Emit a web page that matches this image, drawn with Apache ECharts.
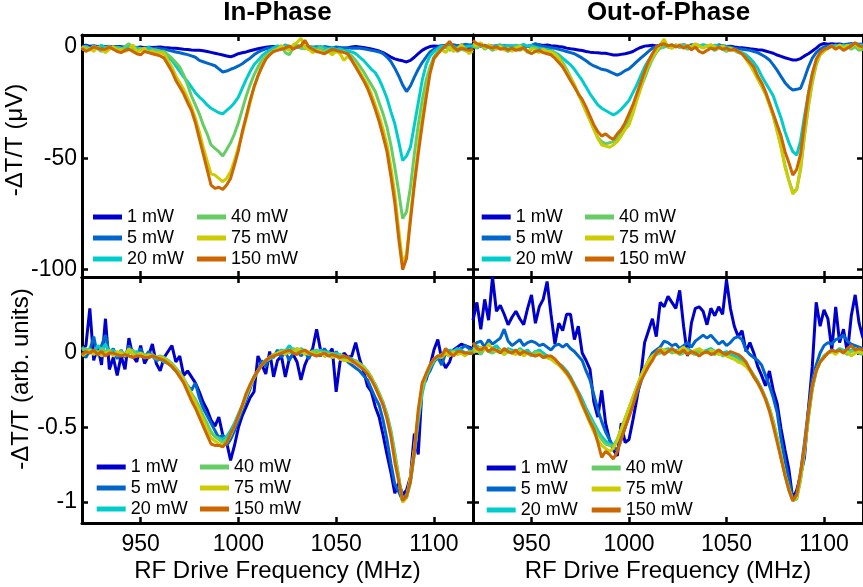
<!DOCTYPE html>
<html><head><meta charset="utf-8">
<script src="https://cdn.jsdelivr.net/npm/echarts@6/dist/echarts.min.js"></script>
<style>html,body{margin:0;padding:0;background:#fff}#c{width:863px;height:587px}</style>
</head><body><div id="c"></div><script>
const freq = [920,922,924,926,928,930,932,934,936,938,940,942,944,946,948,950,952,954,956,958,960,962,964,966,968,970,972,974,976,978,980,982,984,986,988,990,992,994,996,998,1000,1002,1004,1006,1008,1010,1012,1014,1016,1018,1020,1022,1024,1026,1028,1030,1032,1034,1036,1038,1040,1042,1044,1046,1048,1050,1052,1054,1056,1058,1060,1062,1064,1066,1068,1070,1072,1074,1076,1078,1080,1082,1084,1086,1088,1090,1092,1094,1096,1098,1100,1102,1104,1106,1108,1110,1112,1114,1116,1118,1120];
const powers = ['1 mW','5 mW','20 mW','40 mW','75 mW','150 mW'];
const colors = ['#0000CC','#0066CC','#00CCCC','#66CC66','#CCCC00','#CC6600'];
const xTicks = [950,1000,1050,1100];
const yTicksTop = [-100,-50,0];
const yTicksBottom = [-1,-0.5,0];

// In-Phase (uV)
const IP_1 = [0.5,0.8,0.3,0.5,0.2,0.4,0.1,0.3,0.0,0.2, 0.1,-0.1,0.2,0.0,-0.2,0.0,-0.3,-0.1,-0.2,-0.1, 0.0,-0.2,-0.3,-0.5,-0.6,-0.8,-1.0,-1.1,-1.3,-1.4, -1.5,-1.7,-2.0,-2.4,-2.8,-3.2,-3.6,-4.0,-4.4,-3.8, -3.0,-2.6,-2.2,-1.7,-1.2,-0.8,-0.4,-0.1,0.1,0.2, 0.1,0.3,0.0,0.2,-0.1,0.1,-0.2,0.0,-0.3,-0.1, -0.2,0.0,-0.4,-0.2,-0.5,-0.3,-0.6,-0.4,-0.3,0.0, 0.2,0.0,-0.2,-0.5,-0.9,-1.3,-1.8,-2.5,-3.5,-4.5, -5.3,-5.8,-6.2,-6.7,-6.0,-4.6,-3.0,-1.5,-0.5,0.2, 0.5,0.3,0.6,0.4,0.7,0.5,0.6,0.8,0.6,0.7, 0.8];
const IP_5 = [-0.5,0.3,-0.2,0.5,0.0,-0.3,0.2,-0.4,0.0,-0.2, -0.5,0.0,-0.3,-0.6,-0.2,-0.5,-0.8,-0.4,-0.7,-0.6, -0.8,-1.0,-1.4,-1.8,-2.2,-2.6,-3.0,-3.4,-4.0,-4.6, -6.0,-6.6,-7.2,-7.8,-8.4,-9.8,-11.2,-10.8,-10.0,-9.4, -8.5,-7.5,-6.2,-5.0,-3.5,-2.3,-1.5,-0.8,-0.4,0.0, 0.3,-0.2,0.4,0.1,-0.3,0.2,0.5,0.0,0.3,-0.2, 0.1,-0.3,0.2,-0.1,-0.4,0.0,-0.2,-0.5,-0.3,-0.6, -0.4,-0.6,-0.8,-1.1,-1.5,-1.8,-2.2,-3.0,-4.5,-6.5, -9.5,-13.0,-17.0,-20.0,-17.5,-13.5,-10.0,-7.0,-4.5,-2.2, -1.0,-0.2,0.5,0.8,0.5,1.0,0.6,0.8,1.2,0.9, 1.0];
const IP_20 = [-0.8,0.5,-1.0,0.3,-0.5,0.8,-0.3,0.2,-0.6,0.0, -0.4,-1.0,0.2,-0.8,-0.3,-1.2,-0.6,-0.2,-1.0,-1.3, -2.0,-3.0,-4.5,-6.0,-8.5,-11.0,-13.5,-15.5,-18.0,-20.5, -22.5,-24.0,-26.0,-27.5,-28.5,-29.5,-30.0,-28.5,-27.0,-25.0, -22.5,-18.5,-14.5,-11.0,-8.0,-6.0,-4.0,-2.5,-1.5,-0.5, 0.5,-0.3,1.0,0.2,-0.5,0.8,0.0,-0.8,0.3,-0.2, -0.6,0.2,-0.4,-1.0,-0.3,-1.2,-0.8,-1.5,-1.8,-2.2, -3.0,-4.5,-6.0,-8.0,-10.0,-11.5,-14.5,-18.5,-23.0,-29.0, -34.5,-42.5,-51.0,-49.0,-45.0,-35.0,-25.0,-15.0,-8.0,-4.0, -2.0,-0.8,0.5,-0.3,0.8,0.2,-0.5,0.6,0.0,0.4, 0.2];
const IP_40 = [-1.2,0.0,-1.5,0.5,-0.8,-2.0,-0.5,0.3,-1.0,-0.4, -1.5,0.2,1.5,-0.8,-1.8,-0.6,-1.0,-2.0,-1.2,-1.5, -1.8,-2.0,-3.5,-5.0,-7.0,-9.0,-12.5,-17.0,-22.0,-26.0, -30.0,-35.0,-39.0,-44.0,-45.5,-47.0,-49.0,-46.0,-43.0,-39.0, -34.0,-28.0,-22.0,-17.0,-12.5,-9.0,-6.0,-4.0,-3.0,-2.0, -1.0,0.5,-2.5,-3.5,-0.5,1.0,-0.8,0.3,-1.2,-0.5, -1.5,-0.3,-2.0,-1.0,-2.5,-1.5,-1.8,-2.0,-3.0,-4.0, -6.0,-8.5,-11.0,-14.0,-17.0,-20.0,-25.0,-30.0,-36.0,-44.0, -54.0,-65.0,-77.0,-74.0,-63.0,-48.0,-35.0,-24.0,-15.0,-9.0, -4.5,-2.0,-1.0,0.5,-1.5,-0.5,-2.0,-1.0,-1.5,-2.5, -2.0];
const IP_75 = [0.5,-1.5,-0.5,-2.0,0.0,-1.0,-2.5,-1.0,0.2,-1.5, -1.0,-2.0,-1.2,1.0,-2.0,-1.5,-0.5,-2.5,-2.0,-2.8, -2.5,-3.0,-6.0,-9.0,-13.0,-16.0,-19.0,-23.0,-27.0,-32.0, -38.0,-45.0,-51.0,-57.0,-57.5,-59.0,-60.5,-59.0,-56.0,-51.0, -45.0,-39.0,-32.0,-25.0,-18.0,-13.0,-8.0,-5.0,-3.0,-1.5, -1.0,0.5,-0.5,-1.5,1.0,2.0,4.0,-0.5,-1.0,-2.5, -1.5,-2.0,-3.0,-2.0,-3.5,-2.0,-3.0,-6.0,-4.0,-6.0, -8.0,-11.0,-14.0,-17.0,-21.0,-26.0,-31.0,-37.0,-44.0,-54.0, -66.0,-82.0,-97.0,-93.0,-76.0,-60.0,-45.0,-32.0,-21.0,-11.0, -5.5,-3.0,-1.0,-2.5,0.0,-2.0,-1.0,1.0,-1.0,-3.0, -1.0];
const IP_150 = [-0.5,-2.0,-1.0,0.0,-0.5,-1.0,-1.0,0.0,-1.0,-2.0, -2.5,-1.5,-1.0,-2.0,-3.0,-3.5,-2.0,-2.5,-3.0,-3.5, -4.0,-5.0,-8.0,-11.0,-15.0,-18.0,-21.0,-25.0,-28.5,-34.0, -41.0,-48.0,-55.0,-62.0,-63.5,-63.0,-64.0,-62.0,-59.0,-53.0, -46.5,-38.0,-31.0,-24.0,-18.0,-13.0,-9.0,-5.5,-3.5,-2.0, -1.5,-1.0,-0.5,0.5,-1.0,0.0,0.5,3.0,0.0,-1.0, -2.0,-2.5,-3.0,-2.0,-1.0,-1.5,-2.0,-2.5,-3.0,-6.0, -9.0,-12.0,-15.0,-18.5,-23.0,-28.0,-33.5,-40.0,-47.0,-58.0, -70.0,-86.0,-100.0,-95.0,-78.0,-62.0,-48.0,-35.0,-23.0,-12.0, -5.0,-3.0,-1.0,0.5,2.5,0.0,-1.5,-0.5,-1.0,-1.5, -1.0];

// Out-of-Phase (uV)
const OP_1 = [0.8,1.0,0.6,0.5,0.7,0.4,0.5,0.3,0.6,0.2, 0.4,0.1,0.3,0.0,0.2,0.5,0.8,1.0,0.7,0.9, 0.6,0.5,0.2,0.0,-0.5,-0.8,-1.0,-1.3,-1.6,-2.0, -2.3,-2.5,-2.6,-2.8,-2.8,-3.2,-3.6,-3.6,-3.3,-3.0, -2.6,-2.0,-1.0,-0.2,0.4,0.6,0.8,0.5,0.7,0.9, 0.6,0.8,0.5,0.7,0.9,0.6,0.8,1.0,0.7,0.5, 0.6,0.4,0.7,0.3,0.5,0.2,0.4,0.0,-0.2,-0.3, -0.5,-0.8,-1.0,-1.2,-1.3,-1.8,-2.3,-2.8,-3.6,-4.2, -4.8,-5.3,-5.8,-5.8,-5.2,-4.0,-3.0,-1.8,-0.5,1.0, 1.6,1.3,1.5,1.2,1.4,1.0,1.3,1.5,1.1,1.3, 1.2];
const OP_5 = [0.0,0.5,0.2,0.8,0.3,0.0,0.5,0.2,-0.3,0.3, 0.5,0.0,0.3,-0.2,0.4,0.7,1.5,0.8,0.2,0.0, -0.3,-0.6,-1.0,-1.5,-2.0,-2.5,-3.0,-4.0,-5.0,-6.2, -7.5,-8.5,-9.2,-10.0,-10.3,-11.0,-11.8,-12.6,-11.8,-10.6, -9.8,-8.2,-6.6,-5.0,-3.5,-2.0,-0.5,0.3,0.5,0.3, 0.6,0.2,0.8,0.4,0.0,0.5,0.9,0.3,0.6,0.2, 0.5,0.8,0.3,1.0,0.5,0.2,0.0,-0.5,-0.8,-1.0, -1.2,-1.5,-2.0,-2.5,-3.5,-4.5,-5.8,-8.0,-10.5,-13.3, -16.0,-18.0,-19.3,-19.0,-18.5,-14.0,-9.0,-5.0,-2.5,-1.0, 0.0,0.5,0.8,0.3,1.0,0.6,1.2,0.8,1.5,1.0, 1.2];
const OP_20 = [1.0,0.5,1.2,0.3,0.8,0.0,0.6,1.0,0.4,0.7, 0.2,0.8,0.5,1.2,0.3,0.6,0.0,-0.5,-0.8,-1.2, -1.5,-2.5,-3.5,-5.0,-6.5,-8.0,-10.0,-12.5,-15.0,-18.0, -21.0,-23.5,-26.0,-27.5,-28.5,-29.5,-30.5,-29.5,-28.0,-26.0, -24.0,-20.5,-17.0,-13.0,-9.0,-6.0,-3.5,-1.5,-0.5,0.0, 0.5,0.2,0.8,0.4,1.0,0.6,0.3,0.8,0.5,1.0, 0.7,0.3,0.8,0.5,0.2,0.0,-0.5,-1.0,-1.8,-2.5, -3.5,-5.0,-7.0,-9.5,-13.0,-16.0,-19.0,-22.0,-27.0,-32.0, -38.0,-43.0,-47.0,-48.5,-42.0,-31.0,-21.0,-12.0,-6.5,-3.0, -1.5,-0.5,0.3,0.8,0.2,1.0,0.5,1.2,0.6,0.9, 0.8];
const OP_40 = [0.3,-0.5,0.8,-1.0,0.0,-1.5,-0.5,0.5,-0.8,-2.0, -1.0,0.2,-1.5,-0.5,-2.5,-1.0,-0.3,-1.8,-1.0,-2.0, -2.5,-3.0,-4.5,-7.0,-10.0,-13.5,-17.0,-21.0,-25.0,-29.0, -33.0,-37.0,-40.5,-42.5,-43.5,-43.0,-42.5,-41.0,-38.5,-35.5, -32.0,-28.0,-23.5,-18.5,-14.0,-9.5,-5.5,-2.5,-0.5,0.5, 0.0,-0.5,1.0,-0.3,0.5,-1.0,0.2,-0.5,0.8,-0.2, 0.5,-0.5,-1.5,-0.5,-1.0,-2.0,-1.0,-1.5,-2.5,-3.0, -5.0,-7.5,-10.5,-14.0,-17.5,-21.0,-25.5,-31.0,-37.5,-45.0, -53.0,-60.0,-65.0,-64.0,-55.0,-40.0,-27.0,-16.0,-8.0,-3.5, -1.5,-0.5,0.5,-0.5,0.8,-0.3,0.5,-1.0,0.2,-1.5, -1.0];
const OP_75 = [1.5,0.5,2.0,-0.5,1.0,0.0,-1.0,0.5,-1.5,-0.5, -2.0,-0.5,0.5,-1.0,-2.0,-0.5,-1.5,-2.5,-1.0,-2.0, -2.0,-3.0,-5.0,-8.0,-11.0,-14.0,-17.0,-21.0,-25.0,-29.0, -33.0,-37.0,-41.0,-44.0,-44.5,-45.0,-44.0,-42.5,-40.0,-37.0, -35.0,-30.0,-24.0,-18.5,-12.5,-8.0,-4.5,-2.0,1.0,3.5, 0.0,-0.5,0.5,1.0,-0.5,0.8,0.0,1.5,0.3,-0.5, 0.5,1.0,0.2,-0.5,0.5,-1.0,-0.5,-1.5,-2.0,-3.0, -5.5,-8.0,-11.0,-14.5,-17.5,-21.0,-26.0,-31.0,-38.0,-45.0, -54.0,-60.0,-66.0,-64.0,-54.0,-39.0,-26.0,-15.0,-7.0,-3.5, -2.0,-0.5,0.5,-0.8,1.0,-0.5,0.8,0.0,1.5,-0.5, 0.0];
const OP_150 = [3.0,1.5,0.9,0.5,0.0,-0.5,0.2,-1.0,-0.5,-1.3, -0.5,-1.5,-1.0,-0.3,-2.0,-3.0,-2.0,-1.5,-2.5,-3.0, -3.5,-5.0,-7.0,-9.0,-12.0,-15.0,-18.0,-21.0,-23.5,-27.0, -31.0,-35.0,-38.0,-40.0,-39.0,-40.5,-41.5,-39.0,-37.0,-34.0, -30.0,-26.0,-21.0,-16.0,-11.0,-6.5,-3.0,0.0,1.0,1.5, 0.5,1.0,0.0,0.8,-0.5,0.5,-1.3,0.0,-2.0,-2.7, -1.5,-0.5,-1.0,0.0,-1.0,-0.5,-1.5,-1.0,-2.0,-3.0, -5.0,-7.0,-9.0,-13.0,-16.0,-20.0,-25.0,-30.0,-35.0,-40.0, -47.0,-52.0,-57.5,-55.0,-48.0,-34.0,-21.0,-12.0,-5.5,-2.5, -1.0,-0.5,0.5,-1.0,0.0,-1.5,-0.5,0.5,2.0,0.5, 0.0];

// In-Phase normalized (arb. units)
const NIP_1 = [0.02,0.05,0.30,-0.05,0.05,-0.08,0.23,-0.11,-0.03,-0.15, -0.02,-0.11,0.10,-0.02,-0.06,0.05,-0.07,-0.02,0.06,-0.07, -0.12,-0.03,0.01,0.05,-0.06,-0.02,-0.15,-0.12,-0.16,-0.20, -0.26,-0.33,-0.38,-0.45,-0.49,-0.43,-0.55,-0.60,-0.72,-0.62, -0.50,-0.42,-0.36,-0.30,-0.26,-0.02,-0.08,-0.14,0.01,-0.16, -0.05,-0.02,-0.16,-0.04,-0.01,-0.06,-0.18,-0.08,-0.02,0.03, 0.16,0.02,-0.02,-0.01,0.03,-0.26,-0.06,0.00,-0.03,-0.02, 0.07,-0.04,-0.12,-0.22,-0.26,-0.36,-0.43,-0.55,-0.68,-0.80, -0.94,-0.87,-0.95,-0.92,-0.83,-0.54,-0.68,-0.22,-0.18,-0.09, 0.02,0.09,-0.04,-0.10,-0.06,0.02,0.04,0.06,0.05,0.04, 0.03];
const NIP_5 = [0.00,-0.03,0.02,0.11,-0.02,0.05,0.12,-0.01,0.03,-0.04, 0.02,-0.03,0.05,0.00,-0.02,0.03,-0.04,0.01,-0.02,-0.05, -0.04,-0.06,-0.05,-0.09,-0.12,-0.14,-0.18,-0.22,-0.25,-0.20, -0.30,-0.37,-0.42,-0.47,-0.52,-0.57,-0.55,-0.62,-0.58,-0.52, -0.45,-0.38,-0.31,-0.24,-0.16,-0.12,-0.05,-0.09,-0.02,-0.03, 0.02,-0.03,0.01,-0.05,0.00,0.03,-0.02,0.01,-0.04,0.02, 0.00,-0.02,0.03,-0.01,-0.03,0.01,-0.04,-0.02,-0.06,-0.08, -0.10,-0.12,-0.15,-0.18,-0.24,-0.30,-0.35,-0.45,-0.58,-0.74, -0.88,-0.93,-0.99,-0.95,-0.85,-0.66,-0.42,-0.24,-0.16,-0.12, -0.06,-0.03,-0.08,0.00,-0.02,0.02,0.01,0.03,0.05,0.03, 0.02];
const NIP_20 = [0.04,0.01,0.03,-0.01,0.05,0.02,0.06,0.00,0.02,-0.02, 0.01,-0.01,0.02,0.00,0.01,-0.01,-0.02,-0.03,-0.02,-0.04, -0.04,-0.06,-0.07,-0.09,-0.12,-0.15,-0.19,-0.24,-0.29,-0.34, -0.39,-0.44,-0.49,-0.53,-0.56,-0.57,-0.58,-0.56,-0.52,-0.47, -0.41,-0.35,-0.28,-0.22,-0.16,-0.12,-0.08,-0.05,-0.03,-0.01, 0.00,0.02,0.01,0.05,0.02,0.00,0.03,0.01,-0.01,0.01, 0.00,0.02,-0.01,0.01,-0.02,0.00,-0.01,-0.03,-0.03,-0.04, -0.06,-0.08,-0.10,-0.13,-0.17,-0.21,-0.27,-0.33,-0.41,-0.52, -0.67,-0.83,-0.99,-0.97,-0.87,-0.68,-0.46,-0.27,-0.16,-0.10, -0.05,-0.03,-0.02,0.00,0.02,0.01,0.03,0.02,0.00,0.01, 0.01];
const NIP_40 = [0.02,0.03,0.00,0.02,-0.01,0.03,0.01,0.02,-0.01,0.00, 0.01,-0.01,0.00,0.02,-0.01,0.00,-0.01,-0.02,-0.01,-0.03, -0.02,-0.03,-0.05,-0.07,-0.10,-0.13,-0.17,-0.22,-0.27,-0.31, -0.36,-0.42,-0.47,-0.53,-0.56,-0.58,-0.60,-0.58,-0.54,-0.49, -0.43,-0.36,-0.29,-0.22,-0.17,-0.12,-0.08,-0.05,-0.04,-0.02, -0.01,0.01,0.02,0.00,0.03,0.01,0.00,0.02,-0.01,0.01, 0.02,0.00,0.01,-0.01,0.00,-0.02,-0.01,-0.02,-0.04,-0.05, -0.05,-0.07,-0.09,-0.12,-0.16,-0.22,-0.27,-0.34,-0.42,-0.53, -0.68,-0.84,-1.00,-0.97,-0.85,-0.66,-0.43,-0.24,-0.15,-0.09, -0.05,-0.02,-0.01,0.01,0.00,-0.01,0.01,0.00,-0.01,0.00, 0.00];
const NIP_75 = [-0.02,0.00,0.02,-0.01,0.01,-0.02,0.00,0.01,-0.02,0.01, 0.00,-0.02,0.03,-0.01,-0.02,0.00,-0.03,-0.01,-0.02,-0.03, -0.03,-0.04,-0.06,-0.08,-0.11,-0.14,-0.18,-0.23,-0.28,-0.33, -0.39,-0.45,-0.51,-0.57,-0.59,-0.61,-0.62,-0.60,-0.55,-0.49, -0.42,-0.36,-0.28,-0.22,-0.16,-0.12,-0.08,-0.05,-0.03,-0.01, 0.00,0.01,-0.01,0.02,0.00,0.03,0.02,-0.01,0.01,0.00, -0.01,0.00,-0.02,-0.01,-0.03,-0.02,-0.04,-0.05,-0.05,-0.06, -0.06,-0.08,-0.10,-0.13,-0.17,-0.22,-0.28,-0.34,-0.43,-0.55, -0.70,-0.85,-1.00,-0.97,-0.83,-0.64,-0.40,-0.22,-0.14,-0.08, -0.04,-0.02,-0.03,0.00,-0.02,0.01,-0.01,0.00,-0.02,0.01, 0.00];
const NIP_150 = [-0.01,0.01,0.00,0.02,-0.01,0.01,-0.02,0.00,0.00,-0.01, -0.02,-0.01,-0.02,-0.03,-0.02,-0.02,-0.03,-0.03,-0.02,-0.03, -0.04,-0.05,-0.07,-0.09,-0.12,-0.16,-0.20,-0.26,-0.32,-0.37, -0.43,-0.49,-0.55,-0.61,-0.62,-0.62,-0.63,-0.60,-0.54,-0.49, -0.42,-0.35,-0.27,-0.21,-0.16,-0.12,-0.08,-0.05,-0.03,-0.02, -0.01,0.00,0.01,0.02,0.00,-0.01,0.01,0.02,0.00,-0.01, -0.02,-0.01,0.00,-0.02,-0.01,-0.02,-0.03,-0.02,-0.03,-0.05, -0.07,-0.09,-0.11,-0.14,-0.18,-0.23,-0.29,-0.35,-0.44,-0.56, -0.73,-0.86,-0.99,-0.96,-0.86,-0.66,-0.38,-0.20,-0.14,-0.08, -0.04,-0.02,-0.02,0.03,0.00,-0.02,0.01,0.01,0.00,0.00, 0.00];

// Out-of-Phase normalized (arb. units)
const NOP_1 = [0.22,0.34,0.16,0.36,0.22,0.51,0.28,0.32,0.26,0.19, 0.24,0.28,0.23,0.19,0.30,0.39,0.20,0.31,0.36,0.48, 0.26,0.06,0.20,0.15,0.26,0.26,0.09,0.18,0.00,-0.05, -0.11,-0.33,-0.43,-0.25,-0.47,-0.58,-0.65,-0.69,-0.47,-0.60, -0.58,-0.45,-0.31,-0.16,0.07,0.15,0.23,0.11,0.34,0.31, 0.38,0.34,0.30,0.42,0.18,-0.02,0.20,0.30,0.31,0.28, 0.19,0.30,0.25,0.31,0.26,0.49,0.30,0.18,0.11,0.15, 0.01,0.07,0.00,-0.09,-0.15,-0.22,-0.12,-0.25,-0.34,-0.51, -0.65,-0.78,-0.98,-0.92,-0.82,-0.70,-0.38,-0.09,0.34,0.18, 0.29,0.23,0.02,0.31,0.07,0.16,0.00,0.25,0.39,0.20, 0.10];
const NOP_5 = [0.05,0.07,0.08,0.04,0.09,0.06,0.08,0.10,0.16,0.08, 0.05,0.07,0.09,0.05,0.07,0.08,0.07,0.05,0.06,0.04, 0.02,0.05,0.06,0.04,0.06,0.03,0.01,-0.02,-0.05,-0.12, -0.18,-0.28,-0.38,-0.46,-0.53,-0.58,-0.63,-0.65,-0.58,-0.50, -0.42,-0.35,-0.28,-0.20,-0.11,-0.05,0.00,0.02,0.04,0.08, 0.07,0.05,0.06,0.03,0.05,0.07,0.04,0.08,0.10,0.12, 0.10,0.12,0.09,0.06,0.08,0.05,0.07,0.10,0.11,0.09, 0.02,-0.01,-0.03,-0.05,-0.08,-0.15,-0.22,-0.30,-0.40,-0.58, -0.72,-0.85,-0.98,-0.95,-0.80,-0.60,-0.38,-0.18,-0.08,0.00, 0.05,0.07,0.06,0.09,0.10,0.12,0.08,0.06,0.05,0.04, 0.03];
const NOP_20 = [0.03,0.05,0.02,0.04,0.01,0.03,0.05,0.02,0.00,0.03, 0.02,0.00,0.03,0.01,0.02,-0.01,0.01,0.02,0.00,-0.02, -0.03,-0.05,-0.07,-0.09,-0.12,-0.16,-0.21,-0.26,-0.31,-0.37, -0.42,-0.47,-0.52,-0.56,-0.59,-0.61,-0.62,-0.58,-0.51,-0.44, -0.37,-0.30,-0.23,-0.16,-0.10,-0.06,-0.03,0.00,0.01,0.02, 0.03,0.01,0.02,0.00,0.02,0.03,0.01,0.00,0.02,0.01, 0.02,0.03,0.01,0.02,0.00,0.01,-0.01,-0.02,-0.03,-0.05, -0.08,-0.11,-0.15,-0.19,-0.24,-0.30,-0.37,-0.46,-0.57,-0.70, -0.82,-0.92,-0.99,-0.97,-0.84,-0.65,-0.43,-0.24,-0.12,-0.06, -0.02,0.00,0.02,0.01,0.03,0.02,0.01,0.02,0.03,0.01, 0.00];
const NOP_40 = [0.00,0.02,-0.01,0.03,0.01,0.00,0.02,0.01,-0.01,0.01, 0.00,0.02,-0.01,0.01,0.00,-0.02,0.01,0.00,-0.02,-0.03, -0.04,-0.06,-0.08,-0.10,-0.13,-0.17,-0.22,-0.27,-0.33,-0.39, -0.44,-0.49,-0.54,-0.58,-0.61,-0.62,-0.63,-0.59,-0.52,-0.45, -0.37,-0.30,-0.23,-0.16,-0.10,-0.06,-0.03,-0.01,0.00,0.01, 0.02,0.00,0.01,-0.01,0.00,0.02,0.00,-0.01,0.01,0.00, 0.01,0.00,-0.01,0.01,-0.02,-0.01,-0.03,-0.04,-0.05,-0.06, -0.08,-0.11,-0.15,-0.19,-0.24,-0.30,-0.37,-0.46,-0.57,-0.69, -0.81,-0.91,-0.99,-0.98,-0.85,-0.66,-0.44,-0.24,-0.12,-0.06, -0.02,0.00,0.01,0.00,0.02,0.01,-0.01,0.01,0.02,0.00, -0.01];
const NOP_75 = [0.03,0.01,0.04,0.02,0.06,0.03,0.01,0.02,-0.01,0.02, 0.00,-0.01,0.02,-0.02,0.00,-0.01,-0.02,0.00,-0.03,-0.03, -0.04,-0.06,-0.08,-0.11,-0.14,-0.18,-0.23,-0.29,-0.35,-0.41, -0.47,-0.53,-0.58,-0.62,-0.64,-0.66,-0.64,-0.58,-0.51,-0.44, -0.37,-0.30,-0.23,-0.16,-0.10,-0.05,-0.02,0.00,0.03,0.02, 0.01,0.03,0.00,0.02,0.04,0.01,0.00,0.02,0.03,0.01, 0.00,0.02,0.01,-0.01,0.00,-0.02,-0.03,-0.04,-0.06,-0.07, -0.09,-0.12,-0.16,-0.20,-0.25,-0.31,-0.38,-0.47,-0.58,-0.70, -0.82,-0.91,-0.99,-0.97,-0.83,-0.64,-0.42,-0.23,-0.12,-0.06, -0.03,0.00,0.01,-0.01,0.02,0.00,0.01,-0.02,0.00,0.01, 0.00];
const NOP_150 = [0.07,0.03,0.02,0.04,0.01,0.03,0.02,0.00,0.03,0.01, 0.00,0.02,-0.01,0.01,0.00,-0.01,-0.02,-0.01,-0.03,-0.02, -0.02,-0.04,-0.07,-0.10,-0.13,-0.17,-0.22,-0.27,-0.34,-0.40, -0.46,-0.51,-0.60,-0.70,-0.66,-0.68,-0.71,-0.66,-0.58,-0.50, -0.43,-0.35,-0.26,-0.19,-0.14,-0.09,-0.05,0.00,0.02,-0.01, 0.01,0.03,0.01,0.00,0.02,-0.01,0.01,0.00,-0.02,0.00, 0.01,-0.01,0.00,0.02,0.00,-0.01,0.01,0.00,-0.01,-0.03, -0.06,-0.11,-0.16,-0.20,-0.25,-0.31,-0.39,-0.49,-0.60,-0.71, -0.82,-0.92,-0.99,-0.95,-0.80,-0.63,-0.40,-0.22,-0.12,-0.06, -0.03,0.00,0.02,0.01,0.02,0.00,0.03,0.05,0.02,0.03, 0.02];

const panels = [
  {title:'In-Phase', series:[IP_1,IP_5,IP_20,IP_40,IP_75,IP_150]},
  {title:'Out-of-Phase', series:[OP_1,OP_5,OP_20,OP_40,OP_75,OP_150]},
  {title:'', series:[NIP_1,NIP_5,NIP_20,NIP_40,NIP_75,NIP_150]},
  {title:'', series:[NOP_1,NOP_5,NOP_20,NOP_40,NOP_75,NOP_150]}
];

const FONT = '"Liberation Sans", Arial, Helvetica, sans-serif';
const grids = [
  {left:82, top:35, width:391, height:242},
  {left:473, top:35, width:391, height:242},
  {left:82, top:277, width:391, height:246},
  {left:473, top:277, width:391, height:246}
];
const yRange = [[-103.3,5.4],[-103.3,5.4],[-1.14,0.51],[-1.14,0.51]];
const yTicks = [yTicksTop,yTicksTop,yTicksBottom,yTicksBottom];
const plainNum = v => String(v);

const lineAxis = {show:true, onZero:false, lineStyle:{color:'#000', width:3}};
const xAxes = [], yAxes = [];
for (let g = 0; g < 4; g++) {
  const showX = g >= 2;
  const showY = g % 2 === 0;
  ['bottom','top'].forEach((pos, k) => {
    xAxes.push({
      type:'value', gridIndex:g, position:pos, min:920, max:1120,
      axisLine:lineAxis,
      axisTick:{show:true, inside:true, length:6, lineStyle:{color:'#000', width:2.5}, customValues:xTicks},
      axisLabel:{show: showX && k===0, customValues:xTicks, formatter:plainNum, margin:10, color:'#000', fontSize:23, fontFamily:FONT},
      splitLine:{show:false},
      name: (showX && k===0) ? 'RF Drive Frequency (MHz)' : '',
      nameLocation:'middle', nameGap:36,
      nameTextStyle:{color:'#000', fontSize:24, fontFamily:FONT}
    });
  });
  ['left','right'].forEach((pos, k) => {
    const nm = (showY && k===0) ? (g===0 ? '-ΔT/T (μV)' : '-ΔT/T (arb. units)') : '';
    yAxes.push({
      type:'value', gridIndex:g, position:pos, min:yRange[g][0], max:yRange[g][1],
      axisLine:lineAxis,
      axisTick:{show:true, inside:true, length:6, lineStyle:{color:'#000', width:2.5}, customValues:yTicks[g]},
      axisLabel:{show: showY && k===0, customValues:yTicks[g], formatter:plainNum, margin:5, color:'#000', fontSize:23, fontFamily:FONT},
      splitLine:{show:false},
      name:nm, nameLocation:'middle', nameGap:45,
      nameTextStyle:{color:'#000', fontSize:24, fontFamily:FONT, padding: g===0 ? [0,0,0,32] : [0,0,0,42]}
    });
  });
}

const series = [];
panels.forEach((p, g) => {
  p.series.forEach((vals, s) => {
    series.push({
      type:'line', name:powers[s], xAxisIndex:2*g, yAxisIndex:2*g,
      data: freq.map((f, i) => [f, vals[i]]),
      symbol:'none', showSymbol:false, clip:true,
      lineStyle:{color:colors[s], width:3},
      itemStyle:{color:colors[s]},
      emphasis:{disabled:true}, z: 2 + s
    });
  });
});

const legendPos = [
  {c1:93, c2:197, top:208},
  {c1:481.7, c2:585, top:208},
  {c1:96.7, c2:200, top:458},
  {c1:486.7, c2:591.7, top:459}
];
const legends = [];
legendPos.forEach(lp => {
  [[lp.c1, powers.slice(0,3)], [lp.c2, powers.slice(3)]].forEach(([left, names]) => {
    legends.push({
      left:left, top:lp.top, orient:'vertical', padding:0, itemGap:3,
      itemWidth:29, itemHeight:5, icon:'rect', selectedMode:false,
      data:names,
      textStyle:{color:'#000', fontSize:18, fontFamily:FONT, padding:[0,0,0,0]}
    });
  });
});

const titles = [
  {text:'In-Phase', left:277.5, top:0, textAlign:'center', padding:0,
   textStyle:{fontSize:26, fontWeight:'bold', color:'#000', fontFamily:FONT}},
  {text:'Out-of-Phase', left:668.5, top:0, textAlign:'center', padding:0,
   textStyle:{fontSize:26, fontWeight:'bold', color:'#000', fontFamily:FONT}}
];

const chart = echarts.init(document.getElementById('c'), null, {renderer:'canvas'});
chart.setOption({
  animation:false,
  backgroundColor:'#fff',
  title:titles,
  legend:legends,
  grid:grids,
  xAxis:xAxes,
  yAxis:yAxes,
  series:series
});
</script></body></html>
